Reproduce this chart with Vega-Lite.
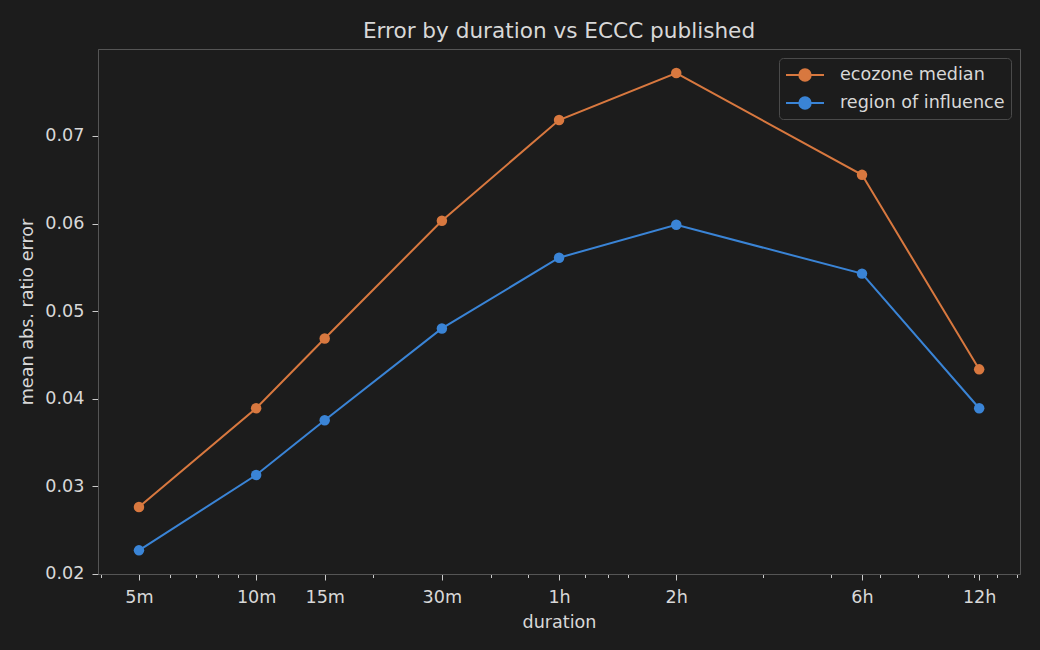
{
  "$schema": "https://vega.github.io/schema/vega-lite/v6.json",
  "width": 922,
  "height": 525,
  "autosize": {"type": "none"},
  "padding": {"left": 98, "top": 49, "right": 20, "bottom": 76},
  "background": "#1c1c1c",
  "title": {"text": "Error by duration vs ECCC published", "font": "DejaVu Sans", "fontSize": 21.6, "fontWeight": "normal", "color": "#d8d8d8", "offset": 6},
  "config": {
    "font": "DejaVu Sans",
    "view": {"stroke": "#555555", "strokeWidth": 1}
  },
  "data": {"values": [
    {"minutes": 5, "method": "ecozone median", "error": 0.02763},
    {"minutes": 10, "method": "ecozone median", "error": 0.03891},
    {"minutes": 15, "method": "ecozone median", "error": 0.04688},
    {"minutes": 30, "method": "ecozone median", "error": 0.06032},
    {"minutes": 60, "method": "ecozone median", "error": 0.07182},
    {"minutes": 120, "method": "ecozone median", "error": 0.07718},
    {"minutes": 360, "method": "ecozone median", "error": 0.06556},
    {"minutes": 720, "method": "ecozone median", "error": 0.04335},
    {"minutes": 5, "method": "region of influence", "error": 0.02268},
    {"minutes": 10, "method": "region of influence", "error": 0.03128},
    {"minutes": 15, "method": "region of influence", "error": 0.03754},
    {"minutes": 30, "method": "region of influence", "error": 0.04802},
    {"minutes": 60, "method": "region of influence", "error": 0.0561},
    {"minutes": 120, "method": "region of influence", "error": 0.05986},
    {"minutes": 360, "method": "region of influence", "error": 0.05428},
    {"minutes": 720, "method": "region of influence", "error": 0.03891}
  ]},
  "encoding": {
    "x": {
      "field": "minutes", "type": "quantitative",
      "scale": {"type": "log", "domain": [3.924, 916.6], "nice": false},
      "axis": {
        "title": "duration", "titleColor": "#d8d8d8", "titleFont": "DejaVu Sans", "titleFontSize": 17.6, "titleFontWeight": "normal", "titlePadding": 8,
        "values": [4,5,6,7,8,9,10,15,20,30,40,50,60,70,80,90,120,200,300,360,400,500,600,700,720,800,900],
        "labelExpr": "datum.value==5?'5m':datum.value==10?'10m':datum.value==15?'15m':datum.value==30?'30m':datum.value==60?'1h':datum.value==120?'2h':datum.value==360?'6h':datum.value==720?'12h':''",
        "labelColor": "#d8d8d8", "labelFontSize": 17.6, "labelPadding": 8, "labelFlush": false, "labelOverlap": false,
        "tickColor": "#cccccc",
        "tickSize": {"condition": {"test": "indexof([5,10,15,30,60,120,360,720], datum.value) >= 0", "value": 6}, "value": 3.5},
        "domainColor": "#555555", "grid": false
      }
    },
    "y": {
      "field": "error", "type": "quantitative",
      "scale": {"domain": [0.01998, 0.07993], "nice": false, "zero": false},
      "axis": {
        "title": "mean abs. ratio error", "titleColor": "#d8d8d8", "titleFontSize": 17.6, "titleFontWeight": "normal", "titlePadding": 8,
        "values": [0.02, 0.03, 0.04, 0.05, 0.06, 0.07], "format": ".2f",
        "labelColor": "#d8d8d8", "labelFontSize": 17.6, "labelPadding": 8,
        "tickColor": "#cccccc", "tickSize": 6, "domainColor": "#555555", "grid": false
      }
    },
    "color": {
      "field": "method", "type": "nominal",
      "scale": {"domain": ["ecozone median", "region of influence"], "range": ["#d8783f", "#3a84d6"]},
      "legend": {
        "title": null, "orient": "top-right", "offset": 9,
        "fillColor": "#1c1c1c", "strokeColor": "#4a4a4a", "cornerRadius": 4, "padding": 6,
        "labelColor": "#d8d8d8", "labelFontSize": 17.6, "labelFont": "DejaVu Sans", "labelOffset": 33, "labelLimit": 400,
        "symbolType": "M-1,0H2.8M1.47,0A0.57,0.57,0,1,1,0.33,0A0.57,0.57,0,1,1,1.47,0Z",
        "symbolSize": 400, "symbolStrokeWidth": 2, "rowPadding": 7,
        "encode": {"symbols": {"update": {"fill": {"scale": "color", "field": "value"}, "stroke": {"scale": "color", "field": "value"}, "opacity": {"value": 1}}}}
      }
    }
  },
  "layer": [
    {"mark": {"type": "line", "strokeWidth": 2}},
    {"mark": {"type": "point", "filled": true, "size": 110, "opacity": 1}}
  ]
}
